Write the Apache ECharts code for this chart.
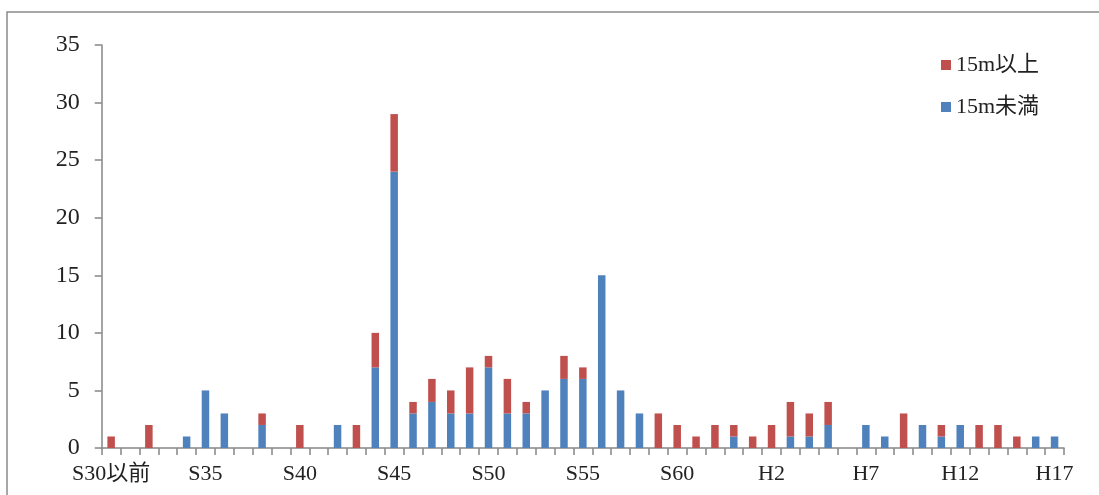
<!DOCTYPE html>
<html>
<head>
<meta charset="utf-8">
<script src="https://cdn.jsdelivr.net/npm/echarts@6/dist/echarts.min.js"></script>
<style>
html,body{margin:0;padding:0;background:#fff;}
#chart{width:1099px;height:495px;}
</style>
</head>
<body>
<div id="chart"></div>
<script>
var categories = ['S30以前','S31','S32','S33','S34','S35','S36','S37','S38','S39',
  'S40','S41','S42','S43','S44','S45','S46','S47','S48','S49',
  'S50','S51','S52','S53','S54','S55','S56','S57','S58','S59',
  'S60','S61','S62','S63','H1','H2','H3','H4','H5','H6',
  'H7','H8','H9','H10','H11','H12','H13','H14','H15','H16','H17'];
var under15 = [0,0,0,0,1,5,3,0,2,0,
  0,0,2,0,7,24,3,4,3,3,
  7,3,3,5,6,6,15,5,3,0,
  0,0,0,1,0,0,1,1,2,0,
  2,1,0,2,1,2,0,0,0,1,1];
var over15 = [1,0,2,0,0,0,0,0,1,0,
  2,0,0,2,3,5,1,2,2,4,
  1,3,1,0,2,1,0,0,0,3,
  2,1,2,1,1,2,3,2,2,0,
  0,0,3,0,1,0,2,2,1,0,0];
var yTicks = [0,5,10,15,20,25,30,35];
var seriesNames = ['15m以上','15m未満'];

var FONT = '"Liberation Serif","Noto Sans CJK JP",serif';
var chart = echarts.init(document.getElementById('chart'));
chart.setOption({
  animation:false,
  backgroundColor:'#fff',
  graphic:[{type:'rect',shape:{x:7,y:12,width:1200,height:600},
    style:{fill:'none',stroke:'#8a8a8a',lineWidth:1.5},silent:true}],
  legend:{
    data:seriesNames,
    orient:'vertical',
    left:941, top:54, padding:0,
    itemWidth:10,itemHeight:10,itemGap:20,
    icon:'rect',
    textStyle:{fontFamily:FONT,fontSize:22,color:'#222'}
  },
  grid:{left:101.7,right:35,top:45,bottom:47,containLabel:false},
  xAxis:{
    type:'category',
    data:categories,
    boundaryGap:true,
    axisLine:{lineStyle:{color:'#868686',width:1.5}},
    axisTick:{show:true,interval:0,length:7,lineStyle:{color:'#868686',width:1.5}},
    axisLabel:{interval:4,margin:15,fontFamily:FONT,fontSize:22,color:'#222'},
    splitLine:{show:false}
  },
  yAxis:{
    type:'value',
    min:yTicks[0],max:yTicks[yTicks.length-1],interval:5,
    axisLine:{show:true,lineStyle:{color:'#868686',width:1.5}},
    axisTick:{show:true,length:7,lineStyle:{color:'#868686',width:1.5}},
    axisLabel:{margin:22,fontFamily:FONT,fontSize:24,color:'#222'},
    splitLine:{show:false}
  },
  series:[
    {name:seriesNames[1],type:'bar',stack:'t',data:under15,barWidth:7.5,
      itemStyle:{color:'#4F81BD'}},
    {name:seriesNames[0],type:'bar',stack:'t',data:over15,barWidth:7.5,
      itemStyle:{color:'#C0504D'}}
  ]
});
</script>
</body>
</html>
